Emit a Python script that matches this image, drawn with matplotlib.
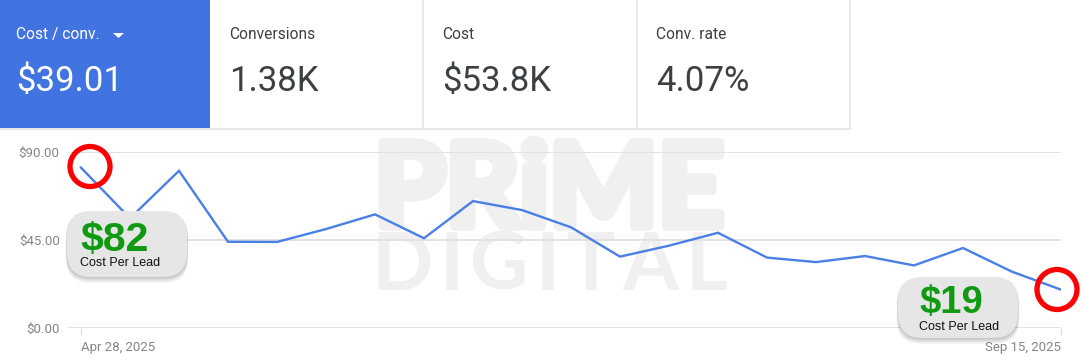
import numpy as np
import matplotlib.pyplot as plt
import matplotlib.patheffects as pe
from matplotlib.patches import Rectangle, FancyBboxPatch, Circle, Polygon

# weekly cost per conversion, Apr 28 -> Sep 15 2025
cost_per_conv = [82.0, 56.1, 80.4, 44.1, 44.0, 50.6, 58.1, 45.9, 64.9, 60.3, 51.5,
                 36.5, 42.1, 48.7, 36.0, 33.7, 36.8, 32.0, 40.9, 28.8, 19.6]
x_labels = ["Apr 28, 2025", "Sep 15, 2025"]
y_ticks = [0, 45, 90]
y_labels = ["$0.00", "$45.00", "$90.00"]

card_titles = ["Cost / conv.", "Conversions", "Cost", "Conv. rate"]
card_values = ["$39.01", "1.38K", "$53.8K", "4.07%"]
card_edges = [0, 210, 423, 637, 850]

badge_values = ["$82", "$19"]
badge_caption = "Cost Per Lead"

W, H = 1086, 360
BLUE = "#4174e0"
LINE = "#4a7fe6"
GREEN = "#0f9a12"
GRAY_TXT = "#80868b"
DARK = "#3c4043"

fig = plt.figure(figsize=(W / 100, H / 100), dpi=100)

# background layer in pixel coords
bg = fig.add_axes([0, 0, 1, 1], zorder=0)
bg.set_xlim(0, W)
bg.set_ylim(H, 0)
bg.axis("off")

bg.add_patch(Rectangle((0, 0), 210, 128, color=BLUE, lw=0))
bg.plot([0, 850], [128.5, 128.5], color="#e3e5e8", lw=1.2)
for xe in card_edges[2:]:
    bg.plot([xe, xe], [0, 128], color="#e3e5e8", lw=1.2)

for i, (t, v) in enumerate(zip(card_titles, card_values)):
    x0 = card_edges[i] + (16 if i == 0 else 19)
    c = "white" if i == 0 else DARK
    bg.text(x0, 39, t, fontsize=11.2, family="Roboto", color=c, va="baseline")
    bg.text(x0, 91, v, fontsize=25, family="Roboto", color=c, va="baseline")
bg.add_patch(Polygon([[113, 33], [124, 33], [118.5, 38]], closed=True, color="white", lw=0))

# chart
L, R, T, B = 68, 1061, 152, 328
ax = fig.add_axes([L / W, (H - B) / H, (R - L) / W, (B - T) / H], zorder=1)
ax.patch.set_alpha(0)
x = np.arange(len(cost_per_conv))
ax.set_xlim(-13 / 49, len(x) - 1)
ax.set_ylim(0, 90)
ax.set_axisbelow(True)
ax.yaxis.grid(True, color="#e2e2e2", lw=1.4)
for s in ax.spines.values():
    s.set_visible(False)
ax.set_yticks(y_ticks)
ax.set_yticklabels(y_labels)
ax.tick_params(axis="y", length=0, pad=6, labelsize=9.5, labelcolor=GRAY_TXT)
ax.set_xticks([0, len(x) - 1])
ax.set_xticklabels(x_labels)
ax.tick_params(axis="x", length=5, width=1, color="#dadce0", pad=4, labelsize=9.5, labelcolor=GRAY_TXT)
tl = ax.get_xticklabels()
tl[0].set_ha("left")
tl[1].set_ha("right")
for lab in ax.get_xticklabels() + ax.get_yticklabels():
    lab.set_family("Roboto")
ax.plot(x, cost_per_conv, color=LINE, lw=1.7, zorder=3, solid_joinstyle="miter")

# watermark (drawn under the gridlines)
def px(xp, yp):
    return xp / W, 1 - yp / H

wm_color = "#f0f0f0"
thick = [pe.withStroke(linewidth=7, foreground=wm_color)]
t1 = fig.text(*px(549, 226), "PRiME", fontsize=88, family="Lato", fontweight="bold",
              color=wm_color, ha="center", va="baseline", zorder=0.5, path_effects=thick)
renderer = fig.canvas.get_renderer()
w1 = t1.get_window_extent(renderer).width
t1.set_fontsize(88 * 350 / w1)

letters = "DIGITAL"
txts = [fig.text(0, 0, ch, fontsize=58, family="Lato", fontweight="bold", color=wm_color,
                 ha="left", va="baseline", zorder=0.5) for ch in letters]
widths = [t.get_window_extent(renderer).width for t in txts]
gap = (356 - sum(widths)) / (len(letters) - 1)
xp = 371
for t, wd in zip(txts, widths):
    t.set_position(px(xp, 290))
    xp += wd + gap

# foreground layer: badges and circles
fg = fig.add_axes([0, 0, 1, 1], zorder=2)
fg.patch.set_alpha(0)
fg.set_xlim(0, W)
fg.set_ylim(H, 0)
fg.axis("off")

def badge(x0, y0, w, h, value, tx, vy, cy, vsize):
    for k, a in enumerate([0.05, 0.05, 0.06, 0.07]):
        off = 4 - k
        fg.add_patch(FancyBboxPatch((x0 - off * 0.3, y0 + off * 0.8), w + off * 0.6, h + off * 0.6,
                                    boxstyle="round,pad=0,rounding_size=24", fc=(0, 0, 0, a), lw=0))
    fg.add_patch(FancyBboxPatch((x0, y0), w, h, boxstyle="round,pad=0,rounding_size=24",
                                fc="#e6e6e6", ec="none"))
    fg.text(tx, vy, value, fontsize=vsize, fontweight="bold", family="Liberation Sans",
            color=GREEN, va="baseline")
    fg.text(tx, cy, badge_caption, fontsize=9, family="Liberation Sans", color="#111111",
            va="baseline")

badge(67, 211, 120, 66, badge_values[0], 80, 251, 266, 29.5)
badge(898, 277, 120, 61, badge_values[1], 919, 313, 330, 27.5)

fg.add_patch(Circle((90, 166.5), 20, fill=False, ec="#ff0000", lw=3.8))
fg.add_patch(Circle((1057, 289.5), 20, fill=False, ec="#ff0000", lw=3.8))

fig.savefig("out.png", dpi=100)
